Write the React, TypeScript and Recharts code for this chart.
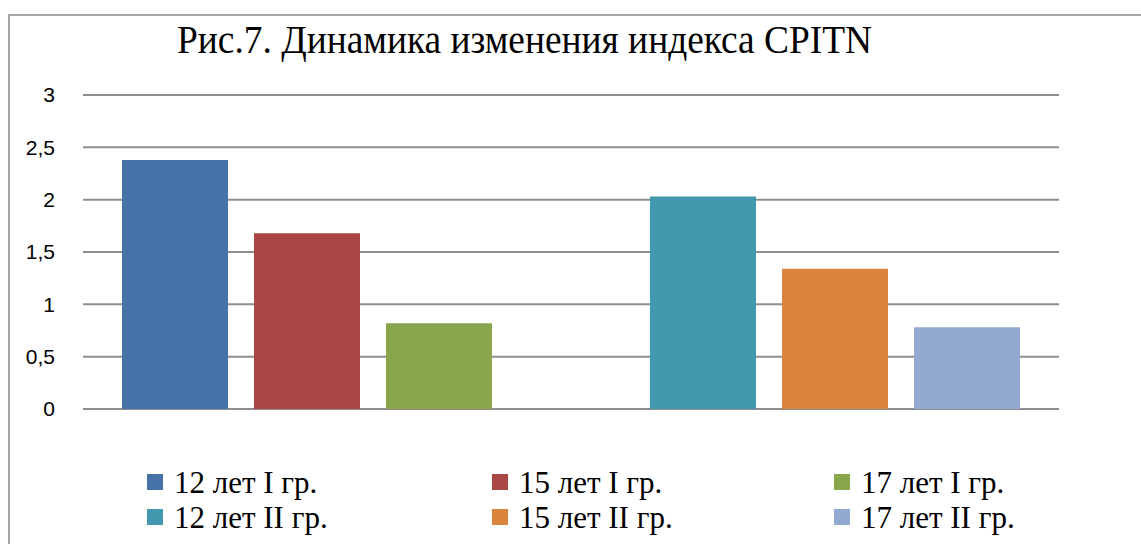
import { BarChart, Bar, XAxis, YAxis, CartesianGrid } from "recharts";

const categories = ["CPITN"];
const seriesNames = [
  "12 лет I гр.",
  "15 лет I гр.",
  "17 лет I гр.",
  "12 лет II гр.",
  "15 лет II гр.",
  "17 лет II гр.",
];
const seriesValues = [2.38, 1.68, 0.82, 2.03, 1.34, 0.78];
const seriesColors = ["#4572A7", "#AA4643", "#89A54E", "#4198AF", "#DB843D", "#93A9CF"];
const yTicks = [0, 0.5, 1, 1.5, 2, 2.5, 3];
const title = "Рис.7. Динамика изменения индекса CPITN";

const data = categories.map((name) => {
  const row: any = { name, spacer: null };
  seriesNames.forEach((s, i) => {
    row[s] = seriesValues[i];
  });
  return row;
});

// legend laid out like the excel one: 3 columns, 2 rows
function LegendGrid() {
  return (
    <div
      style={{
        position: "absolute",
        left: 147,
        top: 465,
        display: "grid",
        gridTemplateColumns: "345px 342px 260px",
        gridAutoRows: "35px",
        fontFamily: "'Liberation Serif', 'Times New Roman', serif",
        fontSize: 31,
        lineHeight: "35px",
        color: "#000",
      }}
    >
      {seriesNames.map((s, i) => (
        <div key={s} style={{ display: "flex", alignItems: "center", whiteSpace: "nowrap" }}>
          <span
            style={{
              display: "inline-block",
              width: 16,
              height: 16,
              background: seriesColors[i],
              marginRight: 11,
              marginTop: -2,
            }}
          />
          {s}
        </div>
      ))}
    </div>
  );
}

export default function App() {
  return (
    <div
      style={{
        position: "absolute",
        left: 0,
        top: 0,
        width: 1141,
        height: 544,
        background: "#fff",
        overflow: "hidden",
      }}
    >
      {/* frame of the chart area */}
      <div
        style={{
          position: "absolute",
          left: 8,
          top: 14,
          width: 1300,
          height: 700,
          borderLeft: "2px solid #a6a6a6",
          borderTop: "2px solid #a6a6a6",
        }}
      />

      {/* Title */}
      <svg width={1141} height={70} style={{ position: "absolute", left: 0, top: 0 }}>
        <text
          x={177}
          y={53}
          fontFamily="'Liberation Serif', 'Times New Roman', serif"
          fontSize={39}
          fill="#000"
          textLength={695}
          lengthAdjust="spacingAndGlyphs"
        >
          {title}
        </text>
      </svg>

      <div style={{ position: "absolute", left: 0, top: 0 }}>
        <BarChart
          width={1141}
          height={544}
          data={data}
          margin={{ top: 95, right: 82, bottom: 135, left: 0 }}
          barCategoryGap={39}
          barGap={26}
        >
          <CartesianGrid vertical={false} stroke="#8e8e8e" strokeWidth={2} />
          <XAxis dataKey="name" hide />
          <YAxis
            domain={[0, 3]}
            ticks={yTicks}
            width={83}
            axisLine={false}
            tickLine={false}
            tickSize={0}
            tickMargin={28}
            tickFormatter={(v: number) => String(v).replace(".", ",")}
            tick={{ fontSize: 21, fill: "#000", fontFamily: "'Liberation Sans', Arial, sans-serif" }}
          />
          {seriesNames.slice(0, 3).map((s, i) => (
            <Bar key={s} dataKey={s} fill={seriesColors[i]} isAnimationActive={false} />
          ))}
          <Bar dataKey="spacer" fill="transparent" legendType="none" isAnimationActive={false} />
          {seriesNames.slice(3).map((s, i) => (
            <Bar key={s} dataKey={s} fill={seriesColors[i + 3]} isAnimationActive={false} />
          ))}
        </BarChart>
      </div>

      <LegendGrid />
    </div>
  );
}
